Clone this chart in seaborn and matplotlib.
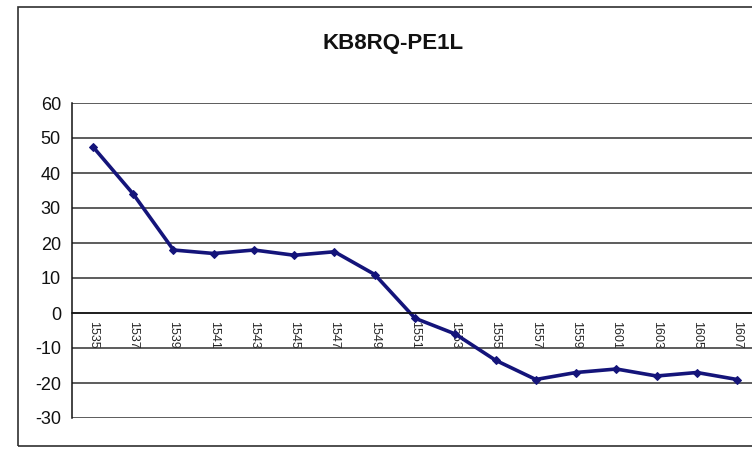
import numpy as np
import pandas as pd
import matplotlib
matplotlib.use('Agg')
import matplotlib.pyplot as plt
import seaborn as sb
from matplotlib.patches import Rectangle
from matplotlib.transforms import Bbox, TransformedBbox

# Chart data
labels = ['1535', '1537', '1539', '1541', '1543', '1545', '1547', '1549', '1551',
          '1553', '1555', '1557', '1559', '1601', '1603', '1605', '1607']
values = [47.5, 34, 18, 17, 18, 16.5, 17.5, 11, -1.5,
          -6, -13.5, -19, -17, -16, -18, -17, -19]
y_ticks = [60, 50, 40, 30, 20, 10, 0, -10, -20, -30]
title = 'KB8RQ-PE1L'

df = pd.DataFrame({'pos': np.arange(len(labels)), 'value': values})

sb.set_style('white')
plt.rcParams['font.family'] = ['Liberation Sans', 'DejaVu Sans']

fig = plt.figure(figsize=(7.52, 4.49), dpi=100)
fig.patch.set_facecolor('white')

# Outer chart-area border
fig.patches.append(Rectangle((18 / 752, 3 / 449), 1.0, 439 / 449,
                             transform=fig.transFigure, fill=False,
                             edgecolor='#303030', linewidth=1.2))

ax = fig.add_axes([72 / 752, 1 - 418 / 449, 1 - 72 / 752, (418 - 103) / 449])
ax.set_facecolor('white')

sb.lineplot(data=df, x='pos', y='value', ax=ax, color='#14147a', linewidth=2.6,
            marker='D', markersize=4.5, markeredgecolor='#14147a')

ax.set_xlim(-0.52, 16.37)
ax.set_ylim(-30, 60)
ax.set_yticks(y_ticks)
ax.set_yticklabels([str(v) for v in y_ticks], fontsize=13, color='#111111')
ax.tick_params(axis='y', length=4, width=1, color='#303030', direction='out', pad=4)
ax.grid(axis='y', color='#303030', linewidth=1.1)
ax.set_axisbelow(True)

# Category axis crosses at zero
for side in ['top', 'right']:
    ax.spines[side].set_visible(False)
ax.spines['bottom'].set_position(('data', 0))
ax.spines['bottom'].set_color('#111111')
ax.spines['bottom'].set_linewidth(1.1)
ax.spines['left'].set_color('#111111')
ax.spines['left'].set_linewidth(1.1)

pos = np.arange(len(labels))
ax.set_xticks(pos[:-1] + 0.5)
ax.set_xticklabels([])
ax.tick_params(axis='x', which='major', direction='in', length=4, width=1, color='#303030')
ax.set_xticks(pos, minor=True)
ax.set_xticklabels(labels, minor=True, rotation=270, fontsize=9, va='top', ha='center')
ax.tick_params(axis='x', which='minor', length=0, pad=6)

ax.set_xlabel('')
ax.set_ylabel('')

# Labels get cut off by the -10 gridline, as in the original
clip = TransformedBbox(Bbox([[-1, -10], [17, 0]]), ax.transData)
for lab in ax.get_xticklabels(minor=True):
    lab.set_clip_box(clip)
    lab.set_clip_on(True)

fig.text(393 / 752, 1 - 43 / 449, title, ha='center', va='center', fontsize=16,
         fontweight='bold', color='#111111')

fig.savefig('out.png', dpi=100, facecolor='white')
